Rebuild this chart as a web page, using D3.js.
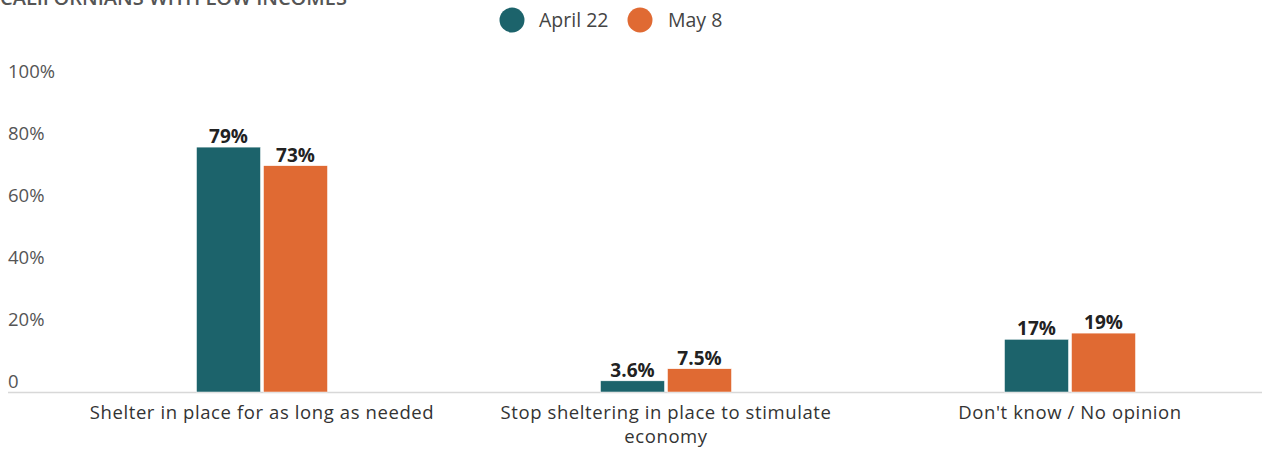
<!DOCTYPE html>
<html><head><meta charset="utf-8">
<script src="https://cdn.jsdelivr.net/npm/d3@7"></script>
<style>body{margin:0;background:#fff;}svg{display:block;font-family:"Open Sans","Noto Sans",sans-serif;}</style>
</head><body><svg id="c" width="1279" height="449"></svg>
<script>
const title = "CALIFORNIANS WITH LOW INCOMES";
const categories = [["Shelter in place for as long as needed"], ["Stop sheltering in place to stimulate", "economy"], ["Don't know / No opinion"]];
const seriesNames = ["April 22", "May 8"];
const seriesColors = ["#1c636b", "#e06a33"];
const april22 = [79, 3.6, 17];
const may8 = [73, 7.5, 19];
const valueLabels = [["79%", "3.6%", "17%"], ["73%", "7.5%", "19%"]];
const yTicks = [0, 20, 40, 60, 80, 100];
const yTickLabels = ["0", "20%", "40%", "60%", "80%", "100%"];

const svg = d3.select("#c");
const series = [april22, may8];
const x = d3.scaleBand().domain(d3.range(categories.length)).range([60, 1272]);
const y = d3.scaleLinear().domain([0, 100]).range([392, 82]);
const barW = 64, gap = 3;

svg.append("text").attr("x", 0).attr("y", 5).attr("font-size", 20).attr("font-weight", 600)
  .attr("fill", "#555").text(title);

// legend
const leg = [{cx:512, tx:539}, {cx:640, tx:668}];
seriesNames.forEach((n,i)=>{
  svg.append("circle").attr("cx", leg[i].cx).attr("cy", 20).attr("r", 12.5).attr("fill", seriesColors[i]);
  svg.append("text").attr("x", leg[i].tx).attr("y", 27).attr("font-size", 19.5).attr("fill", "#444").text(n);
});

// y axis labels
yTicks.forEach((t,i)=>{
  svg.append("text").attr("x", 8).attr("y", y(t) - 4).attr("font-size", 18.5).attr("fill", "#555").text(yTickLabels[i]);
});
svg.append("line").attr("x1", 8).attr("x2", 1262).attr("y1", 392.5).attr("y2", 392.5).attr("stroke", "#d8d8d8").attr("stroke-width", 1.5);

// bars
series.forEach((s, si)=>{
  s.forEach((v, ci)=>{
    const cx = x(ci) + x.bandwidth()/2;
    const bx = si === 0 ? cx - gap/2 - barW : cx + gap/2;
    svg.append("rect").attr("x", bx).attr("y", y(v)).attr("width", barW).attr("height", y(0) - y(v))
      .attr("fill", seriesColors[si]).attr("stroke", "#fff").attr("stroke-width", 0.5);
    svg.append("text").attr("x", bx + barW/2).attr("y", y(v) - 4).attr("text-anchor", "middle")
      .attr("font-size", 19).attr("font-weight", 700).attr("fill", "#222").text(valueLabels[si][ci]);
  });
});

// category labels
categories.forEach((lines, ci)=>{
  const cx = x(ci) + x.bandwidth()/2;
  lines.forEach((l, li)=>{
    svg.append("text").attr("x", cx).attr("y", 419 + li*24).attr("text-anchor", "middle")
      .attr("font-size", 18.5).attr("letter-spacing", 0.6).attr("fill", "#333").text(l);
  });
});
</script></body></html>
